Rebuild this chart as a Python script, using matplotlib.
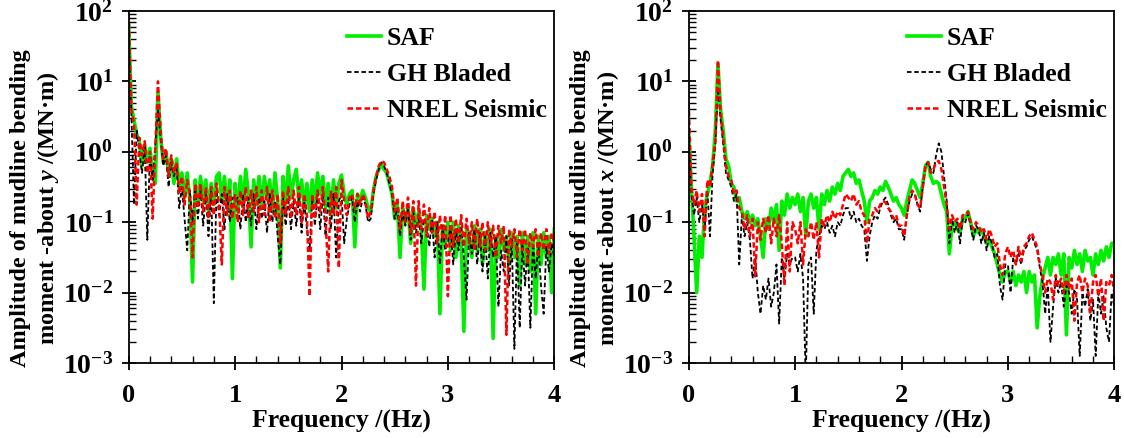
import numpy as np
import matplotlib
matplotlib.use('Agg')
import matplotlib.pyplot as plt
from matplotlib.ticker import FixedLocator, MultipleLocator, LogLocator, NullFormatter

# ------ DATA (log10 of amplitude, every 0.025 Hz) ------
freq = np.linspace(0, 4, 161)

saf_y = [
    1.8, 0.65, 0.45, 0.25, 0.15, -0.2, 0.1, -0.15, 0.05, -0.3, -0.45, 0.85, 0.2, -0.15, 0.0, -0.3, -0.1, -0.45, -0.1, -0.5,
    -0.3, -0.65, -0.3, -0.7, -1.85, -0.4, -0.75, -0.35, -0.7, -0.4, -0.85, -0.45, -0.75, -0.35, -0.3, -0.7, -0.35, -0.8, -0.4, -1.8,
    -0.45, -0.85, -0.35, -0.75, -0.25, -0.6, -1.35, -0.4, -0.75, -0.35, -0.8, -0.35, -0.65, -0.4, -0.85, -0.3, -0.7, -1.65, -0.35, -0.75,
    -0.2, -0.65, -0.4, -0.25, -0.7, -0.4, -0.8, -0.45, -0.85, -0.4, -0.75, -0.3, -0.6, -0.35, -0.8, -0.45, -0.9, -0.4, -0.8, -0.45,
    -0.33, -0.6, -0.75, -0.6, -0.55, -1.35, -0.6, -0.7, -0.55, -0.65, -0.8, -0.85, -0.55, -0.35, -0.25, -0.18, -0.25, -0.3, -0.45, -0.6,
    -0.95, -0.75, -1.5, -0.8, -1.0, -0.8, -1.3, -0.8, -1.05, -0.85, -1.1, -1.95, -0.9, -1.1, -0.95, -1.2, -1.0, -2.3, -1.05, -1.3,
    -1.0, -1.4, -1.0, -1.5, -1.05, -1.3, -2.55, -1.1, -1.2, -1.5, -1.05, -1.4, -1.1, -1.6, -1.15, -1.4, -1.1, -2.65, -1.2, -1.5,
    -1.1, -1.4, -1.2, -1.6, -1.15, -1.5, -1.2, -1.9, -1.15, -1.6, -1.2, -1.7, -1.15, -2.3, -1.2, -1.6, -1.15, -1.5, -1.2, -2.0, -1.1]

bladed_y = [
    1.7, 0.55, -0.75, 0.3, 0.0, -0.3, 0.1, -1.25, 0.0, -0.4, 0.1, 0.6, 0.2, -0.2, -0.05, -0.5, -0.15, -0.35, -0.2, -0.8,
    -0.5, -0.95, -1.4, -0.55, -1.0, -0.5, -0.95, -0.55, -1.05, -0.6, -1.2, -0.55, -2.15, -0.55, -0.9, -0.6, -1.1, -0.6, -1.0, -0.65,
    -0.7, -0.65, -1.1, -0.6, -1.0, -0.65, -1.05, -0.6, -1.1, -0.65, -0.95, -0.7, -1.15, -0.6, -1.0, -0.7, -1.2, -1.6, -0.65, -1.05,
    -0.65, -1.1, -0.7, -1.05, -0.65, -1.15, -0.7, -1.1, -1.4, -0.65, -1.05, -0.6, -1.1, -0.6, -1.2, -0.65, -1.1, -0.6, -1.5, -0.7,
    -0.6, -1.3, -0.95, -0.75, -0.65, -1.0, -0.7, -0.85, -0.65, -0.75, -1.0, -0.95, -0.6, -0.4, -0.25, -0.15, -0.2, -0.3, -0.45, -0.6,
    -0.95, -0.8, -1.2, -0.85, -1.05, -0.8, -1.25, -0.85, -1.15, -0.9, -1.3, -0.95, -1.05, -1.35, -0.95, -1.5, -1.0, -1.6, -1.05, -1.4,
    -1.3, -1.05, -1.6, -1.1, -1.4, -1.0, -1.5, -2.1, -1.15, -1.45, -1.1, -1.6, -1.15, -1.7, -1.2, -1.8, -1.15, -1.5, -1.2, -2.2,
    -1.4, -1.7, -1.2, -1.9, -1.25, -2.8, -1.3, -2.5, -1.3, -1.9, -1.35, -2.5, -1.3, -1.8, -1.3, -1.9, -2.3, -1.35, -1.7, -1.3, -1.5]

nrel_y = [
    1.95, 0.6, 0.4, -0.75, 0.2, -0.05, 0.15, -0.3, 0.0, -0.95, 0.05, 1.0, 0.3, -0.1, 0.05, -0.35, -0.05, -0.3, -0.15, -0.6,
    -0.35, -0.75, -0.4, -0.6, -1.5, -0.45, -0.8, -0.45, -0.85, -0.5, -0.95, -0.5, -0.9, -0.45, -0.75, -1.6, -0.5, -0.9, -0.55, -0.95,
    -0.6, -1.0, -0.55, -0.9, -0.5, -0.95, -0.55, -0.85, -0.5, -1.0, -0.55, -0.9, -0.5, -1.0, -0.55, -0.95, -0.6, -1.3, -0.55, -0.9,
    -0.5, -0.95, -0.55, -0.9, -0.5, -1.0, -0.6, -0.9, -2.05, -0.6, -0.95, -0.55, -0.85, -0.5, -0.95, -1.7, -0.55, -0.9, -0.5, -1.65,
    -0.4, -0.7, -0.9, -0.65, -0.6, -0.8, -0.6, -0.75, -0.6, -0.7, -0.95, -0.85, -0.55, -0.35, -0.2, -0.13, -0.15, -0.25, -0.35, -0.5,
    -0.85, -0.65, -1.1, -0.7, -1.0, -0.65, -1.15, -0.7, -1.9, -0.7, -1.1, -0.75, -1.2, -0.8, -1.15, -0.85, -1.3, -0.9, -1.25, -0.9,
    -2.05, -0.9, -1.35, -0.95, -1.3, -0.9, -1.35, -0.95, -1.3, -1.0, -1.4, -0.95, -1.35, -1.0, -1.4, -1.0, -1.35, -1.05, -1.5, -1.05,
    -1.3, -1.05, -2.6, -1.1, -1.35, -1.1, -1.5, -1.1, -1.4, -1.1, -1.6, -1.15, -1.35, -1.1, -1.5, -1.15, -1.4, -1.1, -1.45, -1.15, -1.3]

saf_x = [
    0.3, -0.5, -1.2, -2.0, -1.2, -1.5, -0.8, -0.6, -0.45, -0.2, 0.3, 1.25, 0.6, 0.3, -0.1, -0.2, -0.45, -0.5, -0.7, -0.65,
    -0.85, -0.95, -0.85, -1.0, -0.9, -1.05, -0.95, -1.2, -1.5, -0.95, -1.1, -0.8, -1.0, -0.75, -1.4, -0.7, -0.9, -0.6, -0.8, -0.65,
    -0.75, -0.6, -0.85, -0.65, -1.2, -0.7, -0.6, -0.8, -0.65, -1.1, -0.6, -0.75, -0.55, -0.7, -0.5, -0.6, -0.45, -0.55, -0.35, -0.3,
    -0.25, -0.35, -0.3, -0.45, -0.4, -0.55, -0.7, -1.0, -0.7, -0.65, -0.55, -0.6, -0.5, -0.55, -0.42, -0.5, -0.6, -0.7, -0.65, -0.75,
    -0.8, -0.9, -0.7, -0.55, -0.4, -0.45, -0.55, -0.65, -0.45, -0.2, -0.15, -0.35, -0.45, -0.42, -0.45, -0.6, -0.75, -0.85, -1.45, -1.05,
    -1.0, -1.1, -1.15, -0.95, -0.95, -0.85, -1.0, -1.2, -1.1, -1.15, -1.1, -1.2, -1.3, -1.25, -1.35, -1.45, -1.6, -1.75, -1.85, -1.7,
    -1.7, -1.85, -1.7, -1.9, -1.75, -1.85, -1.7, -2.0, -1.7, -1.85, -1.75, -2.5, -2.05, -1.8, -1.65, -1.5, -1.75, -1.5, -1.6, -1.45,
    -1.75, -1.45, -2.6, -1.5, -1.65, -1.4, -1.6, -1.45, -1.7, -1.4, -1.55, -1.5, -1.75, -1.45, -1.6, -1.4, -1.55, -1.35, -1.5, -1.3, -1.3]

bladed_x = [
    0.3, -0.6, -0.9, -0.65, -1.0, -0.75, -1.1, -0.55, -1.2, -0.3, 0.1, 0.9, 0.45, 0.1, -0.3, -0.4, -0.5, -0.7, -0.6, -1.6,
    -0.9, -1.2, -1.0, -1.25, -1.8, -1.5, -2.0, -2.3, -1.9, -2.1, -1.8, -2.2, -2.0, -1.6, -2.44, -1.5, -1.8, -1.45, -1.6, -1.5,
    -1.5, -1.7, -1.45, -1.8, -3.2, -1.6, -1.5, -2.3, -1.4, -1.2, -1.05, -1.1, -1.0, -1.15, -1.05, -1.2, -1.0, -1.05, -0.9, -0.8,
    -0.8, -0.95, -0.85, -1.0, -0.95, -1.05, -1.1, -1.55, -1.2, -1.0, -0.9, -0.95, -0.8, -0.7, -0.65, -0.75, -0.9, -1.0, -0.95, -1.1,
    -1.1, -1.25, -0.9, -0.7, -0.6, -0.6, -0.75, -0.85, -0.5, -0.2, -0.15, -0.25, -0.3, -0.05, 0.12, 0.0, -0.35, -0.7, -1.3, -0.95,
    -1.15, -1.0, -1.3, -0.95, -1.0, -0.88, -1.05, -1.25, -1.05, -1.1, -1.3, -1.15, -1.4, -1.2, -1.3, -1.5, -1.45, -1.9, -2.1, -1.6,
    -1.6, -2.0, -1.5, -1.6, -1.45, -1.6, -1.4, -1.35, -1.25, -1.2, -1.3, -1.4, -1.65, -1.85, -2.3, -1.9, -2.7, -2.2, -1.8, -2.0,
    -1.85, -2.2, -1.9, -2.0, -2.3, -1.95, -2.1, -2.9, -2.0, -2.2, -1.95, -2.4, -2.1, -2.9, -2.0, -2.3, -2.05, -2.5, -2.7, -2.0, -2.2]

nrel_x = [
    0.7, -0.5, -0.75, -0.55, -0.85, -0.6, -1.2, -0.4, -0.5, -0.15, 0.15, 1.3, 0.55, 0.2, -0.2, -0.35, -0.4, -0.6, -0.55, -0.8,
    -0.85, -1.1, -0.9, -1.2, -0.95, -1.77, -1.0, -1.25, -0.95, -1.15, -0.9, -1.3, -0.95, -1.2, -0.9, -1.3, -1.9, -1.0, -1.7, -1.0,
    -1.1, -1.3, -1.0, -1.6, -1.1, -1.2, -1.0, -1.25, -1.0, -1.5, -0.95, -1.05, -0.9, -1.0, -0.85, -0.95, -0.85, -0.9, -0.75, -0.6,
    -0.65, -0.7, -0.6, -0.75, -0.7, -0.85, -0.9, -1.3, -0.95, -0.9, -0.8, -0.85, -0.75, -0.7, -0.72, -0.8, -0.85, -0.95, -0.9, -1.05,
    -1.05, -1.2, -0.9, -0.65, -0.55, -0.6, -0.75, -0.8, -0.5, -0.2, -0.15, -0.3, -0.25, -0.15, -0.13, -0.25, -0.5, -0.75, -1.1, -0.9,
    -1.0, -0.95, -1.1, -0.9, -0.9, -0.85, -1.0, -1.1, -1.0, -1.05, -1.15, -1.1, -1.25, -1.1, -1.2, -1.35, -1.3, -1.6, -1.75, -1.45,
    -1.35, -1.5, -1.4, -1.6, -1.35, -1.55, -1.35, -1.3, -1.2, -1.15, -1.25, -1.35, -1.6, -1.75, -2.0, -1.8, -1.85, -2.1, -1.75, -1.9,
    -1.8, -2.0, -1.75, -1.95, -1.8, -2.4, -1.85, -1.75, -2.0, -1.8, -1.9, -2.3, -1.85, -1.75, -2.05, -1.8, -2.4, -1.85, -1.9, -1.75, -2.0]

series_names = ['SAF', 'GH Bladed', 'NREL Seismic']
y_ticks = [1e-3, 1e-2, 1e-1, 1e0, 1e1, 1e2]
y_tick_labels = ['$10^{-3}$', '$10^{-2}$', '$10^{-1}$', '$10^{0}$', '$10^{1}$', '$10^{2}$']
x_ticks = [0, 1, 2, 3, 4]
ylabels = ['Amplitude of mudline bending\nmoment -about $y$ /(MN\u00b7m)',
           'Amplitude of mudline bending\nmoment -about $x$ /(MN\u00b7m)']

# ------ STYLE ------
plt.rcParams['font.family'] = ['Liberation Serif', 'DejaVu Serif']
plt.rcParams['font.weight'] = 'bold'
plt.rcParams['mathtext.fontset'] = 'custom'
plt.rcParams['mathtext.rm'] = 'Liberation Serif:bold'
plt.rcParams['mathtext.it'] = 'Liberation Serif:bold:italic'
plt.rcParams['mathtext.bf'] = 'Liberation Serif:bold'

fig = plt.figure(figsize=(11.24, 4.38), dpi=100)
W, H = 1124, 438
ax_w, ax_h = 425.6, 352
ax1 = fig.add_axes([128.7 / W, (H - 363) / H, ax_w / W, ax_h / H])
ax2 = fig.add_axes([688.7 / W, (H - 363) / H, ax_w / W, ax_h / H])

panels = [(ax1, saf_y, bladed_y, nrel_y, ylabels[0]),
          (ax2, saf_x, bladed_x, nrel_x, ylabels[1])]

for ax, s, b, n, ylab in panels:
    ax.plot(freq, 10 ** np.array(s), color='#00ee00', lw=2.6, label=series_names[0])
    ax.plot(freq, 10 ** np.array(b), color='black', lw=1.3, ls=(0, (2.5, 1.5)), label=series_names[1])
    ax.plot(freq, 10 ** np.array(n), color='#ff0000', lw=1.8, ls=(0, (2.2, 1.2)), label=series_names[2])

    ax.set_yscale('log')
    ax.set_ylim(1e-3, 1e2)
    ax.set_xlim(0, 4)
    ax.yaxis.set_major_locator(FixedLocator(y_ticks))
    ax.set_yticklabels(y_tick_labels)
    ax.yaxis.set_minor_locator(LogLocator(base=10, subs=np.arange(2, 10), numticks=20))
    ax.yaxis.set_minor_formatter(NullFormatter())
    ax.set_xticks(x_ticks)
    ax.xaxis.set_minor_locator(MultipleLocator(0.2))

    ax.tick_params(which='major', direction='inout', length=10, width=1.3)
    ax.tick_params(which='minor', direction='in', length=5, width=1.0)
    ax.tick_params(axis='x', which='major', pad=10, labelsize=19)
    ax.tick_params(axis='y', which='major', pad=6, labelsize=20)
    for sp in ax.spines.values():
        sp.set_linewidth(1.3)

    ax.set_xlabel('Frequency /(Hz)', fontsize=18.5, fontweight='bold', labelpad=2)
    ax.set_ylabel(ylab, fontsize=17.5, fontweight='bold')
    ax.yaxis.set_label_coords(-68 / ax_w, (363 - 208) / ax_h)

    leg = ax.legend(loc='upper right', bbox_to_anchor=(1.024, 1.005), frameon=False,
                    prop={'size': 18.5, 'weight': 'bold'}, handlelength=1.35,
                    handletextpad=0.2, labelspacing=0.5, borderaxespad=0.5,
                    borderpad=0.2)

plt.savefig('out.png', dpi=100)
